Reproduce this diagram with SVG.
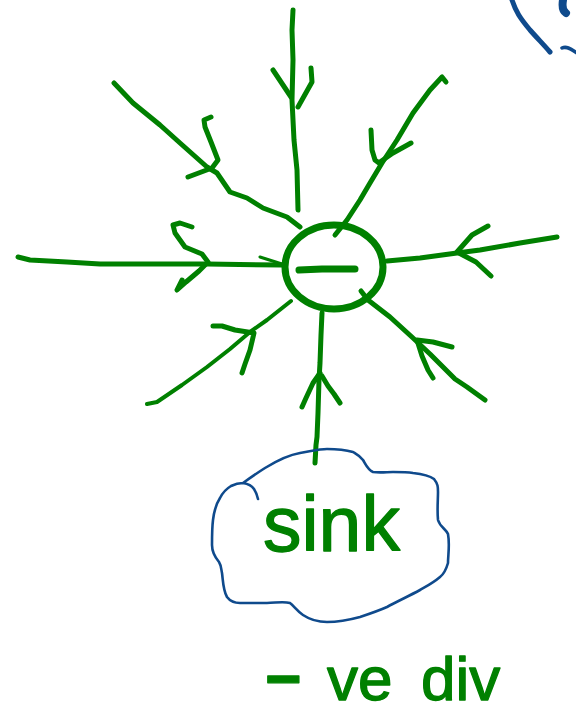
<svg xmlns="http://www.w3.org/2000/svg" width="576" height="714" viewBox="0 0 576 714">
<style>
.g{fill:none;stroke:#008000;stroke-width:5;stroke-linecap:round;stroke-linejoin:round}
.b{fill:none;stroke:#0f4a8c;stroke-width:2.6;stroke-linecap:round;stroke-linejoin:round}
.t{fill:#008000;stroke:#008000;stroke-width:1.3;stroke-linejoin:round;font-family:"Liberation Sans",Arial,sans-serif}
</style>
<rect width="576" height="714" fill="#ffffff"/>
<g id="corner-shape">
<path class="b" d="M512,0 C516,12 520,18 530,30 C538,39 544,45 550,52" style="stroke-width:5"/>
<path class="b" d="M563,0 C562,6 563,11 566,13" style="stroke-width:8"/>
<path class="b" d="M562,48 C566,46 570,48 577,53" style="stroke-width:3.5"/>
</g>
<g id="connectors">
<!-- top vertical -->
<path class="g" d="M293,10 L292,30 L293,60 L292,100 L294,140 L297,170 L298,210"/>
<path class="g" d="M273,70 L291,97 M311,68 L312,82 L298,107"/>
<!-- top-left diagonal -->
<path class="g" d="M114,83 L133,103 L160,125 L180,143 L207,167 L217,173 L230,192 L247,198 L263,208 L287,217 L300,227"/>
<path class="g" d="M211,117 L204,120 L205,127 L211,142 L218,160 L212,168 L188,177"/>
<!-- top-right diagonal -->
<path class="g" d="M446,82 L442,77 L430,90 L413,113 L397,140 L382,163 L370,183 L360,200 L347,220 L335,235"/>
<path class="g" d="M371,130 L372,150 L375,160 L379,163 M411,143 L393,153 L380,162"/>
<!-- left horizontal -->
<path class="g" d="M18,257 L30,260 L67,262 L100,264 L207,264 L282,265"/>
<path class="g" d="M192,227 L180,223 L173,225 L175,233 L185,247 L202,254 L208,262 L199,271 L186,282 L177,290 L182,280"/>
<path class="g" d="M260,257 L282,264" style="stroke-width:3"/>
<!-- right horizontal -->
<path class="g" d="M557,237 L520,243 L480,250 L457,253 L420,258 L387,261"/>
<path class="g" d="M488,226 L472,235 L457,252 L476,262 L491,276"/>
<!-- bottom-left diagonal -->
<path class="g" d="M147,404 L157,402 L182,385 L207,367 L230,349 L250,332 L267,320 L291,301" style="stroke-width:4"/>
<path class="g" d="M213,326 L222,326 L235,330 L254,333 L250,350 L245,364 L242,373"/>
<!-- bottom-right diagonal -->
<path class="g" d="M361,291 L368,300 L390,317 L413,338 L430,354 L443,367 L455,379 L467,387 L485,400"/>
<path class="g" d="M452,347 L433,342 L417,340 L422,356 L428,370 L433,378"/>
<!-- bottom vertical -->
<path class="g" d="M315,463 L316,445 L317,437 L318,413 L319,380 L320,363 L321,335 L322,313"/>
<path class="g" d="M320,373 L313,383 L306,398 L302,407 M322,376 L328,386 L334,394 L340,403"/>
</g>
<g id="charge">
<ellipse cx="334" cy="267" rx="49" ry="42" fill="none" stroke="#008000" stroke-width="7"/>
<path class="g" d="M299,270 L322,269 L355,269" style="stroke-width:7"/>
</g>
<g id="sink">
<path class="b" d="M243,483 C250,478 257,473 265,468 C278,460 288,455 300,453 C312,451 320,449 327,449 C337,449 346,450 353,452 C358,455 360,456 363,460 C366,465 368,470 373,472 C380,473 387,472 393,472 C400,472 407,472 413,473 C422,474 430,476 434,479 C438,484 438,487 438,492 C438,500 437,510 438,520 C440,527 446,529 448,534 C450,545 448,555 448,563 C446,570 444,574 440,577 C433,583 427,586 420,590 C409,596 398,601 387,607 C378,611 369,614 360,617 C349,620 337,622 327,622 C317,622 309,619 303,615 C297,611 294,606 290,603 C283,601 275,603 267,603 C258,603 249,603 240,603 C234,603 230,601 227,597 C223,590 223,580 222,573 C221,568 221,565 219,562 C214,556 212,551 212,545 C212,537 212,528 213,520 C214,512 216,504 220,498 C223,492 226,489 231,486 C235,484 239,483 243,483 C249,484 252,486 254,489 C256,492 257,495 258,499"/>
<text class="t" x="263" y="551" font-size="77">sink</text>
</g>
<g id="label">
<text class="t" y="700" font-size="62"><tspan x="265" font-weight="bold">− </tspan><tspan x="327">ve </tspan><tspan x="421">div</tspan></text>
</g>
</svg>
